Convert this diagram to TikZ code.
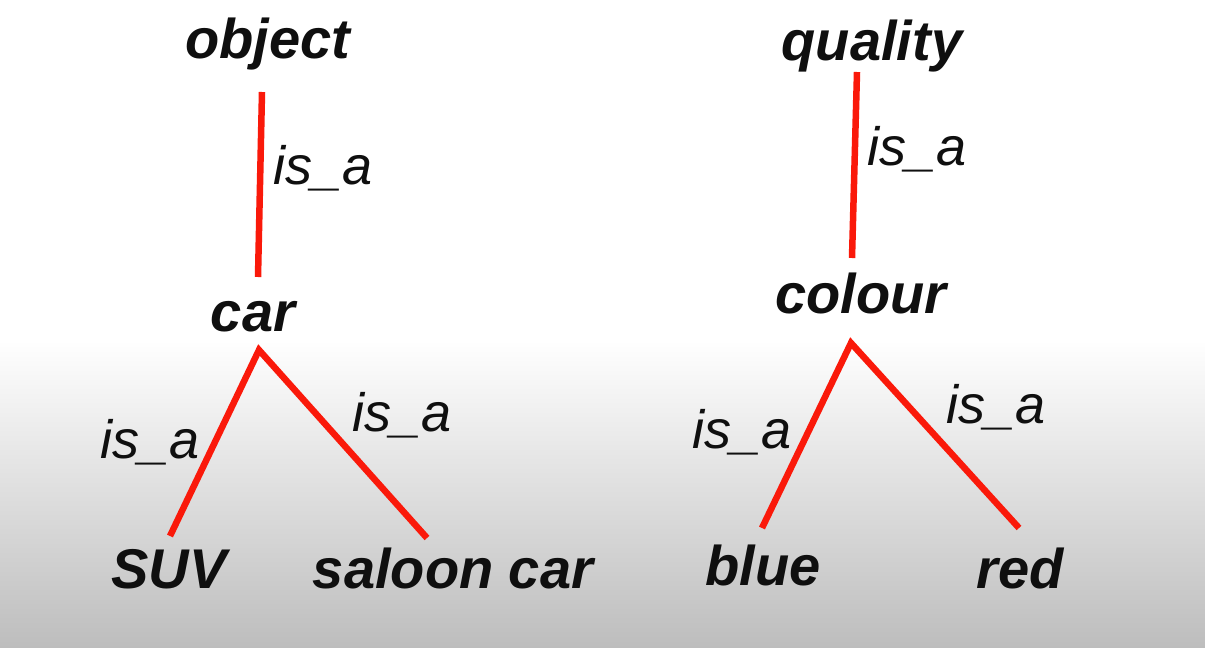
\documentclass[tikz,border=0pt]{standalone}
\usepackage{fontspec}
\setmainfont{Liberation Sans}
\definecolor{linkred}{RGB}{250,25,10}
\definecolor{inkblack}{RGB}{15,15,15}
\definecolor{bggray}{RGB}{189,189,189}
\begin{document}
\begin{tikzpicture}[x=1pt,y=-1pt,
  concept/.style={anchor=base,inner sep=0pt,text=inkblack,font=\fontsize{56}{60}\selectfont\bfseries\itshape},
  rel/.style={anchor=base,inner sep=0pt,text=inkblack,font=\fontsize{54}{58}\selectfont\itshape},
  link/.style={draw=linkred,line width=6.5pt}]
% background
\fill[white] (0,0) rectangle (1205,341);
\shade[top color=white,bottom color=bggray] (0,340) rectangle (1205,648);
\useasboundingbox (0,0) rectangle (1205,648);
% concept nodes
\node[concept] (object) at (268,58) {object};
\node[concept] (car) at (253,331) {car};
\node[concept] (suv) at (169,588) {SUV};
\node[concept] (saloon) at (453,588) {saloon car};
\node[concept] (quality) at (872,60) {quality};
\node[concept] (colour) at (861,313) {colour};
\node[concept] (blue) at (763,585) {blue};
\node[concept] (red) at (1020,588) {red};
% connector end points
\coordinate (object-s) at (262,92);
\coordinate (car-n) at (258,277);
\coordinate (car-s) at (259,350);
\coordinate (suv-n) at (170,536);
\coordinate (saloon-n) at (427,538);
\coordinate (quality-s) at (857,72);
\coordinate (colour-n) at (852,258);
\coordinate (colour-s) at (851,343);
\coordinate (blue-n) at (762,528);
\coordinate (red-n) at (1019,528);
% connectors
\draw[link] (object-s) -- (car-n);
\draw[link,line join=miter] (suv-n) -- (car-s) -- (saloon-n);
\draw[link] (quality-s) -- (colour-n);
\draw[link,line join=miter] (blue-n) -- (colour-s) -- (red-n);
% relation labels
\node[rel] (l1) at (323,184) {is\_a};
\node[rel] (l2) at (150,458) {is\_a};
\node[rel] (l3) at (402,431) {is\_a};
\node[rel] (l4) at (917,165) {is\_a};
\node[rel] (l5) at (742,448) {is\_a};
\node[rel] (l6) at (996,423) {is\_a};
\end{tikzpicture}
\end{document}
